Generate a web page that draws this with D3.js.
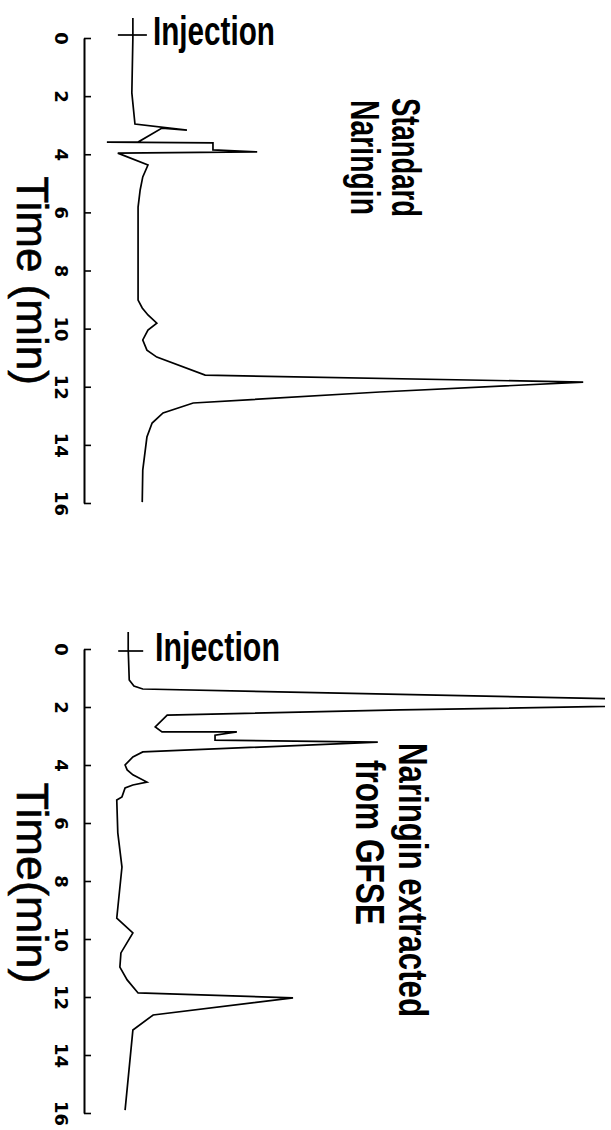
<!DOCTYPE html>
<html>
<head>
<meta charset="utf-8">
<script src="https://cdn.jsdelivr.net/npm/d3@7"></script>
<style>
  html, body { margin: 0; padding: 0; background: #fff; }
  svg { display: block; }
  .cond { font-family: "Liberation Sans Narrow", "Arial Narrow", "Liberation Sans", Arial, sans-serif; font-weight: bold; font-stretch: condensed; }
  .tick text { font-family: "DejaVu Sans", sans-serif; font-size: 18px; font-weight: bold; }
</style>
</head>
<body>
<svg id="chart" width="611" height="1130"></svg>
<script>
// ---- data ----
const timeTicks = [0, 2, 4, 6, 8, 10, 12, 14, 16];

// Standard naringin chromatogram (time in min, relative response)
const stdTime   = [0, 1.89, 2.96, 3.17, 3.10, 3.58, 3.58, 3.61, 3.85, 3.92, 3.96, 4.37, 4.78, 5.23, 5.82, 7.88, 9.02, 9.29, 9.53, 9.81, 10.05, 10.39, 10.74, 10.98, 11.60, 11.84, 12.18, 12.56, 12.90, 13.25, 13.73, 14.87, 15.97];
const stdSignal = [9.4, 9.2, 9.8, 19.8, 15.0, 10.4, 4.4, 24.8, 24.8, 33.3, 6.5, 12.3, 11.3, 10.8, 10.4, 10.4, 10.4, 11.2, 12.3, 14.0, 12.3, 11.3, 12.1, 14.0, 23.3, 96.0, 56.9, 21.0, 15.2, 13.1, 12.1, 11.3, 11.2];

// Naringin extracted from GFSE chromatogram
const gfseTime   = [0, 1.07, 1.28, 1.38, 1.86, 2.10, 2.28, 2.69, 2.86, 2.86, 2.97, 3.14, 3.21, 3.55, 3.72, 4.00, 4.17, 4.34, 4.59, 4.69, 4.79, 5.10, 5.21, 6.34, 7.52, 9.28, 9.79, 10.48, 10.97, 11.41, 11.86, 12.03, 12.62, 13.14, 15.90];
const gfseSignal = [8.5, 8.7, 9.6, 11.3, 140.4, 60.8, 16.0, 13.7, 15.0, 29.4, 25.2, 25.2, 56.5, 11.3, 9.4, 7.9, 8.3, 9.4, 12.1, 9.4, 7.9, 7.3, 6.3, 6.5, 7.3, 6.3, 9.4, 7.1, 6.9, 8.3, 10.4, 40.2, 13.3, 9.4, 7.9];

const injectionLabel = "Injection";
const axisTitles = ["Time (min)", "Time(min)"];
const sampleLabels = [["Standard", "Naringin"], ["Naringin extracted", "from GFSE"]];

// ---- layout ----
const svg = d3.select("#chart");
const x = d3.scaleLinear().domain([0, 100]).range([84, 604]);

const panels = [
  { time: stdTime, signal: stdSignal, top: 38, bottom: 503,
    crossDy: -3, crossTop: -20, crossL: 15, crossR: 14, injX: 153, injDy: 7, injLen: 122,
    title: axisTitles[0], titleX: 17, titleFs: 44, titleDy: 10,
    labels: [{ t: sampleLabels[0][0], x: 392, y: 98, len: 119 }, { t: sampleLabels[0][1], x: 351, y: 100, len: 115 }] },
  { time: gfseTime, signal: gfseSignal, top: 649, bottom: 1113,
    crossDy: 2, crossTop: -17, crossL: 10, crossR: 15, injX: 155, injDy: 12, injLen: 125,
    title: axisTitles[1], titleX: 17, titleFs: 45, titleDy: 2,
    labels: [{ t: sampleLabels[1][0], x: 399, y: 743, len: 274 }, { t: sampleLabels[1][1], x: 356, y: 760, len: 165 }] }
];

svg.append("defs").append("clipPath").attr("id", "clip")
  .append("rect").attr("x", 0).attr("y", 0).attr("width", x(100) + 1).attr("height", 1130);

panels.forEach((p, i) => {
  const y = d3.scaleLinear().domain([0, 16]).range([p.top, p.bottom]);
  const g = svg.append("g");

  // axis
  const axis = d3.axisLeft(y).tickValues(timeTicks).tickSizeInner(-7).tickSizeOuter(0).tickPadding(0);
  const ax = g.append("g").attr("transform", `translate(${x(0)},0)`).call(axis)
    .attr("font-size", 18).attr("font-family", "DejaVu Sans, sans-serif");
  ax.select(".domain").attr("stroke", "#000").attr("stroke-width", 2);
  ax.selectAll(".tick line").attr("stroke", "#000").attr("stroke-width", 1.6);
  ax.selectAll(".tick text")
    .attr("x", null).attr("dy", null)
    .attr("transform", "translate(-29,0) rotate(90)")
    .attr("text-anchor", "middle")
    .attr("fill", "#000")
    .attr("font-size", 18)
    .attr("font-weight", "bold");

  // axis title
  g.append("text")
    .attr("transform", `translate(${p.titleX},${(p.top + p.bottom) / 2 + p.titleDy}) rotate(90)`)
    .attr("text-anchor", "middle")
    .style("font-family", "'Liberation Sans', Arial, sans-serif")
    .style("font-size", p.titleFs + "px")
    .attr("stroke", "#000").attr("stroke-width", 0.6)
    .text(p.title);

  // trace
  const pts = p.time.map((t, k) => ({ t, s: p.signal[k] }));
  const line = d3.line().x(d => x(d.s)).y(d => y(d.t));
  g.append("path").datum(pts)
    .attr("clip-path", "url(#clip)")
    .attr("d", line)
    .attr("fill", "none")
    .attr("stroke", "#000")
    .attr("stroke-width", 1.7)
    .attr("stroke-linejoin", "miter");

  // injection marker
  const x0 = x(pts[0].s), y0 = y(0);
  g.append("line").attr("x1", x0 - p.crossL).attr("x2", x0 + p.crossR)
    .attr("y1", y0 + p.crossDy).attr("y2", y0 + p.crossDy)
    .attr("stroke", "#000").attr("stroke-width", 1.7);
  g.append("line").attr("x1", x0).attr("x2", x0)
    .attr("y1", y0 + p.crossTop).attr("y2", y0)
    .attr("stroke", "#000").attr("stroke-width", 1.7);
  g.append("text").attr("class", "cond")
    .attr("x", p.injX).attr("y", y0 + p.injDy)
    .attr("textLength", p.injLen).attr("lengthAdjust", "spacingAndGlyphs")
    .style("font-size", "41px")
    .text(injectionLabel);

  // sample labels
  p.labels.forEach(l => {
    g.append("text").attr("class", "cond")
      .attr("transform", `translate(${l.x},${l.y}) rotate(90)`)
      .attr("textLength", l.len).attr("lengthAdjust", "spacingAndGlyphs")
      .style("font-size", "40px")
      .text(l.t);
  });
});
</script>
</body>
</html>
